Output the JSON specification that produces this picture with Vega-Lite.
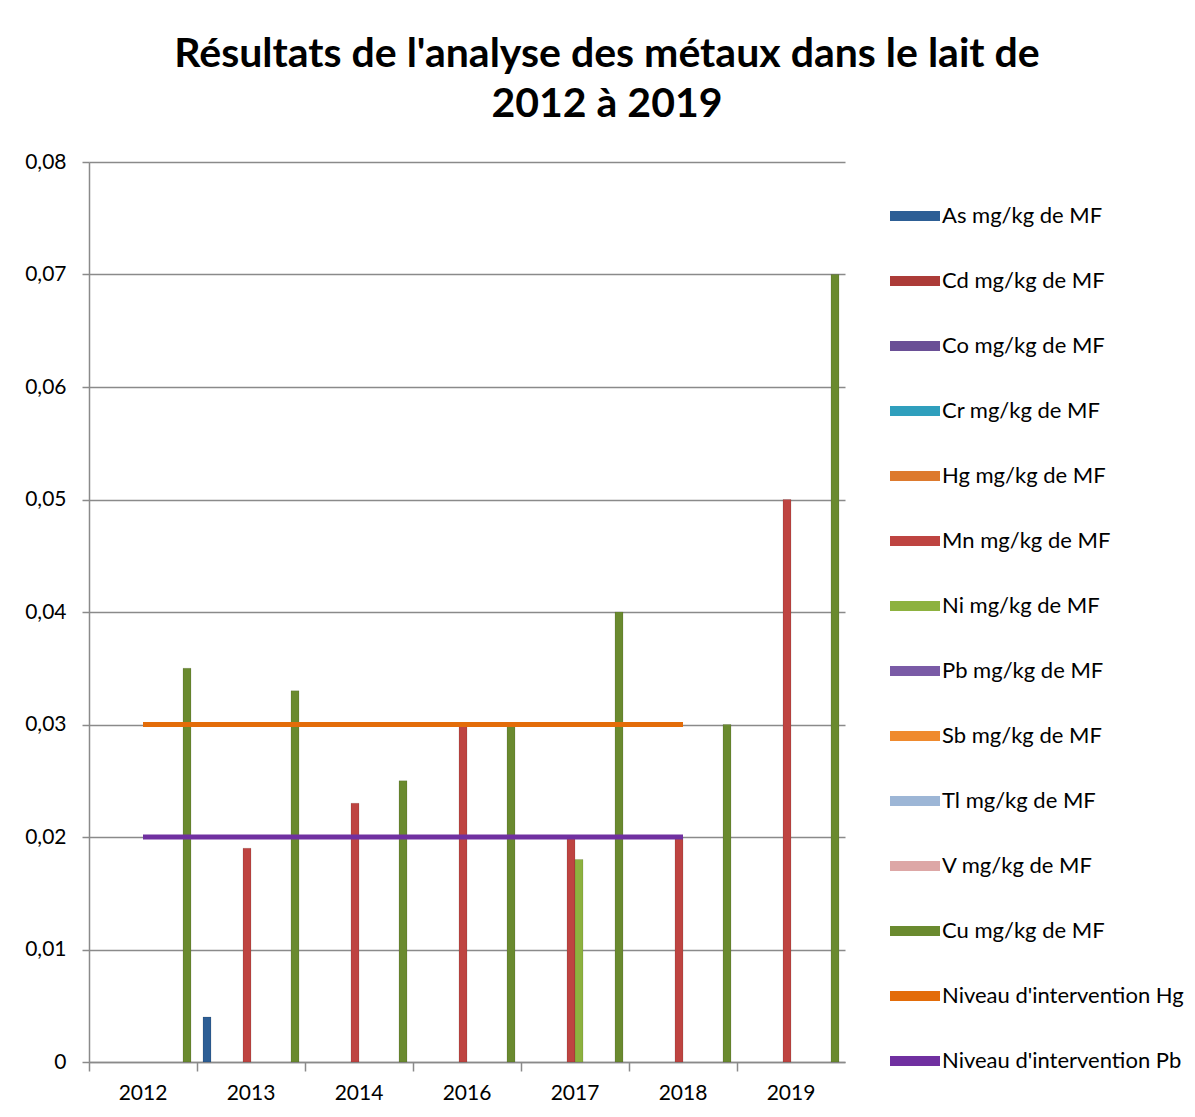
{
  "$schema": "https://vega.github.io/schema/vega-lite/v6.json",
  "width": 756,
  "height": 900,
  "autosize": {"type": "none"},
  "padding": {"left": 89, "top": 162, "right": 350, "bottom": 55},
  "background": "white",
  "title": {
    "text": ["Résultats de l'analyse des métaux dans le lait de", "2012 à 2019"],
    "anchor": "middle",
    "frame": "group",
    "dx": 140,
    "offset": 25,
    "font": "Lato",
    "fontSize": 41,
    "fontWeight": "bold",
    "lineHeight": 50,
    "color": "#000000"
  },
  "datasets": {
    "bars": [
      {"annee": "2012", "serie": "Cu mg/kg de MF", "valeur": 0.035},
      {"annee": "2013", "serie": "As mg/kg de MF", "valeur": 0.004},
      {"annee": "2013", "serie": "Mn mg/kg de MF", "valeur": 0.019},
      {"annee": "2013", "serie": "Cu mg/kg de MF", "valeur": 0.033},
      {"annee": "2014", "serie": "Mn mg/kg de MF", "valeur": 0.023},
      {"annee": "2014", "serie": "Cu mg/kg de MF", "valeur": 0.025},
      {"annee": "2016", "serie": "Mn mg/kg de MF", "valeur": 0.03},
      {"annee": "2016", "serie": "Cu mg/kg de MF", "valeur": 0.03},
      {"annee": "2017", "serie": "Mn mg/kg de MF", "valeur": 0.02},
      {"annee": "2017", "serie": "Ni mg/kg de MF", "valeur": 0.018},
      {"annee": "2017", "serie": "Cu mg/kg de MF", "valeur": 0.04},
      {"annee": "2018", "serie": "Mn mg/kg de MF", "valeur": 0.02},
      {"annee": "2018", "serie": "Cu mg/kg de MF", "valeur": 0.03},
      {"annee": "2019", "serie": "Mn mg/kg de MF", "valeur": 0.05},
      {"annee": "2019", "serie": "Cu mg/kg de MF", "valeur": 0.07}
    ],
    "lines": [
      {"annee": "2012", "serie": "Niveau d'intervention Hg", "valeur": 0.03},
      {"annee": "2013", "serie": "Niveau d'intervention Hg", "valeur": 0.03},
      {"annee": "2014", "serie": "Niveau d'intervention Hg", "valeur": 0.03},
      {"annee": "2016", "serie": "Niveau d'intervention Hg", "valeur": 0.03},
      {"annee": "2017", "serie": "Niveau d'intervention Hg", "valeur": 0.03},
      {"annee": "2018", "serie": "Niveau d'intervention Hg", "valeur": 0.03},
      {"annee": "2012", "serie": "Niveau d'intervention Pb", "valeur": 0.02},
      {"annee": "2013", "serie": "Niveau d'intervention Pb", "valeur": 0.02},
      {"annee": "2014", "serie": "Niveau d'intervention Pb", "valeur": 0.02},
      {"annee": "2016", "serie": "Niveau d'intervention Pb", "valeur": 0.02},
      {"annee": "2017", "serie": "Niveau d'intervention Pb", "valeur": 0.02},
      {"annee": "2018", "serie": "Niveau d'intervention Pb", "valeur": 0.02}
    ]
  },
  "layer": [
    {
      "data": {"name": "bars"},
      "mark": {"type": "bar", "stroke": "#00000030", "strokeWidth": 0.6},
      "encoding": {
        "x": {
          "field": "annee",
          "type": "nominal",
          "sort": null,
          "scale": {"domain": ["2012", "2013", "2014", "2016", "2017", "2018", "2019"], "paddingInner": 0, "paddingOuter": 0},
          "axis": {
            "orient": "bottom",
            "title": null,
            "labels": false,
            "bandPosition": 0,
            "ticks": true,
            "tickSize": 9,
            "tickColor": "#8a8a8a",
            "tickWidth": 1.5,
            "domainColor": "#8a8a8a",
            "domainWidth": 1.5,
            "grid": false
          }
        },
        "xOffset": {
          "field": "serie",
          "type": "nominal",
          "scale": {
            "domain": ["As mg/kg de MF", "Cd mg/kg de MF", "Co mg/kg de MF", "Cr mg/kg de MF", "Hg mg/kg de MF", "Mn mg/kg de MF", "Ni mg/kg de MF", "Pb mg/kg de MF", "Sb mg/kg de MF", "Tl mg/kg de MF", "V mg/kg de MF", "Cu mg/kg de MF"],
            "paddingInner": 0,
            "paddingOuter": 0.75
          }
        },
        "y": {
          "field": "valeur",
          "type": "quantitative",
          "scale": {"domain": [0, 0.08], "nice": false, "zero": true},
          "axis": {
            "title": null,
            "values": [0, 0.01, 0.02, 0.03, 0.04, 0.05, 0.06, 0.07, 0.08],
            "labelExpr": "datum.value == 0 ? '0' : replace(format(datum.value, '.2f'), '.', ',')",
            "grid": true,
            "gridColor": "#8a8a8a",
            "gridWidth": 1.5,
            "tickSize": 7,
            "tickColor": "#8a8a8a",
            "tickWidth": 1.5,
            "domainColor": "#8a8a8a",
            "domainWidth": 1.5,
            "labelFont": "Lato",
            "labelFontSize": 21,
            "labelColor": "#000000",
            "labelPadding": 16
          }
        },
        "color": {
          "field": "serie",
          "type": "nominal",
          "scale": {
            "domain": ["As mg/kg de MF", "Cd mg/kg de MF", "Co mg/kg de MF", "Cr mg/kg de MF", "Hg mg/kg de MF", "Mn mg/kg de MF", "Ni mg/kg de MF", "Pb mg/kg de MF", "Sb mg/kg de MF", "Tl mg/kg de MF", "V mg/kg de MF", "Cu mg/kg de MF", "Niveau d'intervention Hg", "Niveau d'intervention Pb"],
            "range": ["#2D5E95", "#AC3B38", "#6A4F96", "#2F9FBD", "#DD7A2E", "#BE4441", "#8DB23F", "#7A5BA6", "#EF8A2E", "#9DB6D6", "#DDA7A6", "#6A8A2F", "#E36C09", "#7030A0"]
          },
          "legend": {
            "title": null,
            "orient": "none",
            "legendX": 801,
            "legendY": 29,
            "padding": 0,
            "symbolType": "M-1,-0.2H1V0.2H-1Z",
            "symbolSize": 2500,
            "symbolStrokeWidth": 0,
            "symbolOpacity": 1,
            "labelFont": "Lato",
            "labelFontSize": 22,
            "labelColor": "#000000",
            "labelOffset": 2,
            "labelLimit": 400,
            "rowPadding": 29,
            "values": ["As mg/kg de MF", "Cd mg/kg de MF", "Co mg/kg de MF", "Cr mg/kg de MF", "Hg mg/kg de MF", "Mn mg/kg de MF", "Ni mg/kg de MF", "Pb mg/kg de MF", "Sb mg/kg de MF", "Tl mg/kg de MF", "V mg/kg de MF", "Cu mg/kg de MF", "Niveau d'intervention Hg", "Niveau d'intervention Pb"],
            "encode": {
              "symbols": {"update": {"fill": {"scale": "color", "field": "value"}, "stroke": {"value": "transparent"}, "opacity": {"value": 1}}}
            }
          }
        }
      }
    },
    {
      "data": {"name": "lines"},
      "mark": {"type": "line", "strokeWidth": 5},
      "encoding": {
        "x": {
          "field": "annee",
          "type": "nominal",
          "sort": null,
          "axis": {
            "orient": "bottom",
            "title": null,
            "labels": true,
            "ticks": false,
            "domain": false,
            "grid": false,
            "labelFont": "Lato",
            "labelFontSize": 21,
            "labelColor": "#000000",
            "labelPadding": 20,
            "labelAngle": 0
          }
        },
        "y": {"field": "valeur", "type": "quantitative"},
        "color": {"field": "serie", "type": "nominal"}
      }
    }
  ],
  "resolve": {"axis": {"x": "independent"}},
  "config": {
    "view": {"stroke": null}
  }
}
